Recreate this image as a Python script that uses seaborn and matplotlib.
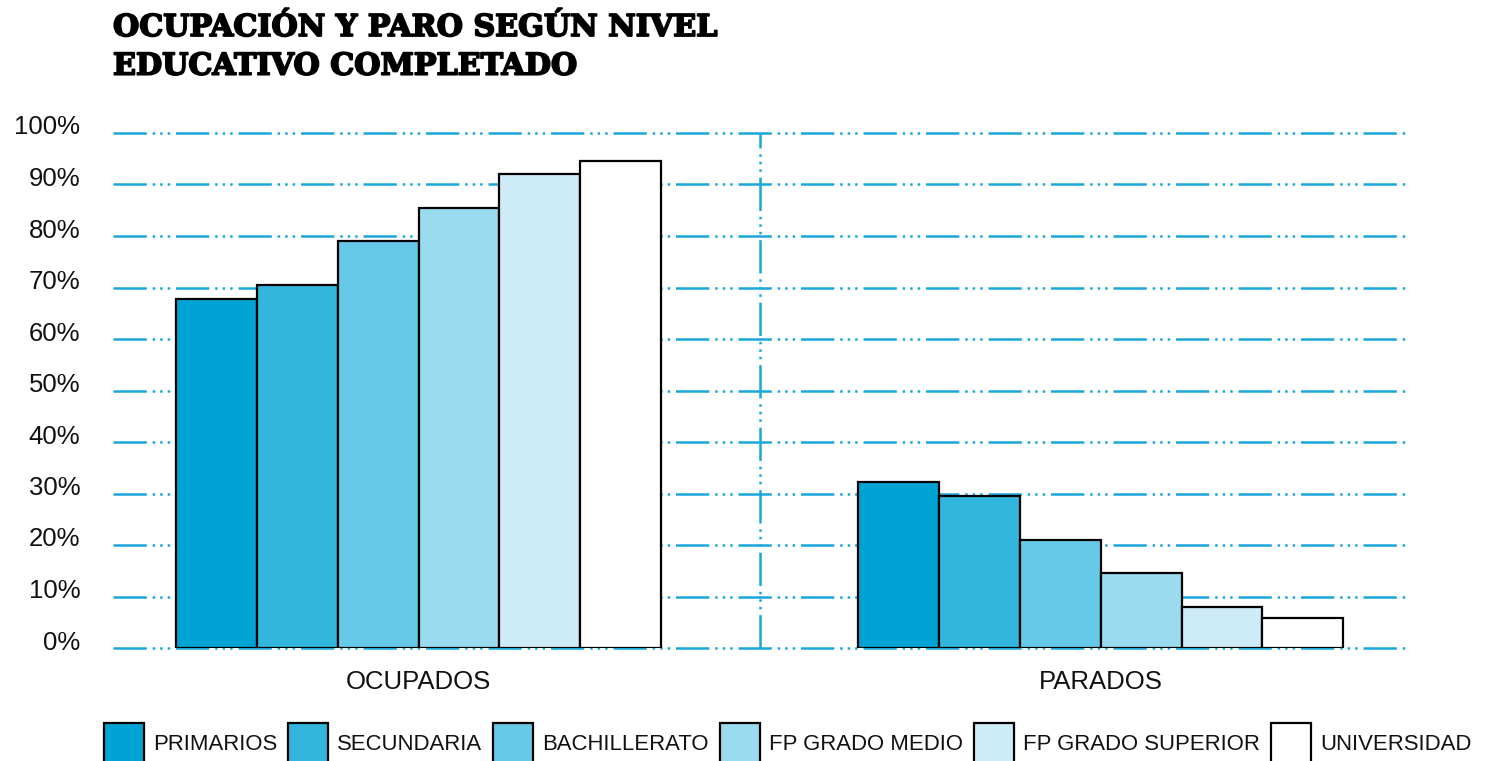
import matplotlib
matplotlib.use("Agg")
import matplotlib.pyplot as plt
import matplotlib.transforms as mtransforms
import matplotlib.patheffects as pe
import seaborn as sns
import pandas as pd

# ---- data ----
groups = ["OCUPADOS", "PARADOS"]
levels = ["PRIMARIOS", "SECUNDARIA", "BACHILLERATO", "FP GRADO MEDIO",
          "FP GRADO SUPERIOR", "UNIVERSIDAD"]
ocupados = [67.7, 70.5, 79.0, 85.4, 92.1, 94.5]
parados = [32.3, 29.5, 21.0, 14.6, 7.9, 5.8]
yticks = [0, 10, 20, 30, 40, 50, 60, 70, 80, 90, 100]
ytick_labels = [f"{v}%" for v in yticks]
title = "OCUPACIÓN Y PARO SEGÚN NIVEL\nEDUCATIVO COMPLETADO"

colors = ["#00a4d4", "#33b6dd", "#66c9e7", "#9bdbef", "#ceecf7", "#ffffff"]
grid_color = "#1aa7db"

rows = []
for lv, o, p in zip(levels, ocupados, parados):
    rows.append({"grupo": groups[0], "nivel": lv, "valor": o})
    rows.append({"grupo": groups[1], "nivel": lv, "valor": p})
df = pd.DataFrame(rows)

sns.set_theme(style="white")
plt.rcParams["font.family"] = ["Liberation Sans", "DejaVu Sans"]
plt.rcParams["lines.scale_dashes"] = False
plt.rcParams["text.color"] = "#111111"

fig = plt.figure(figsize=(14.89, 7.61), dpi=100)
ax = fig.add_axes([113/1489, 1-648/761, (1407-113)/1489, (648-133)/761])

dash = (0, (24, 4.2, 1.8, 3.6, 1.8, 3.6, 1.8, 4.2))
for v in yticks:
    ax.axhline(v, color=grid_color, lw=1.8, linestyle=dash, zorder=0, clip_on=False)
ax.axvline(0.5, color=grid_color, lw=1.8, linestyle=dash, zorder=0, clip_on=False)

sns.barplot(data=df, x="grupo", y="valor", hue="nivel", order=groups,
            hue_order=levels, palette=colors, saturation=1, width=0.711,
            edgecolor="black", linewidth=1.6, ax=ax, zorder=2)

ax.set_xlim(-0.448, 1.449)
ax.set_ylim(0, 100)
for s in ax.spines.values():
    s.set_visible(False)
ax.set_xlabel("")
ax.set_ylabel("")
ax.set_yticks(yticks)
ax.set_yticklabels(ytick_labels, fontsize=18.5, color="#111111")
ax.tick_params(axis="y", length=0, pad=23.5)
ax.tick_params(axis="x", length=0, pad=16, labelsize=18.5, labelcolor="#111111")
off = mtransforms.ScaledTranslation(0, 8/100, fig.dpi_scale_trans)
for lab in ax.get_yticklabels():
    lab.set_transform(lab.get_transform() + off)
ax.grid(False)

handles, labels = ax.get_legend_handles_labels()
ax.get_legend().remove()
leg = fig.legend(handles, labels, ncol=6, loc="center", bbox_to_anchor=(0.529, 0.024),
                 frameon=False, fontsize=15.9, handlelength=1.8, handleheight=2.4,
                 handletextpad=0.42, columnspacing=0.5, borderaxespad=0,
                 labelcolor="#111111")
for h in leg.legend_handles:
    h.set_edgecolor("black")
    h.set_linewidth(1.6)

fig.text(113/1489, 1-13/761, title, ha="left", va="top", fontsize=21.7,
         fontweight="bold", family="DejaVu Serif", linespacing=1.42, color="black",
         path_effects=[pe.withStroke(linewidth=1.3, foreground="black")])

fig.savefig("out.png", dpi=100, facecolor="white")
